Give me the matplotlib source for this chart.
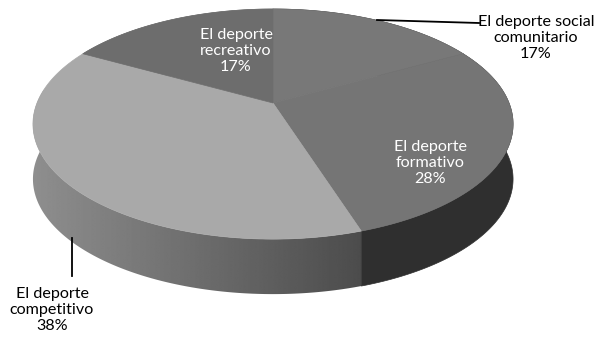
import numpy as np
import matplotlib.pyplot as plt
from matplotlib.patches import Polygon

# slice data, clockwise from 12 o'clock
labels = ["El deporte social\ncomunitario", "El deporte\nformativo",
          "El deporte\ncompetitivo", "El deporte\nrecreativo"]
values = [17, 28, 38, 17]

top_colors = ["#787878", "#757575", "#a9a9a9", "#6d6d6d"]
side_colors = ["#2f2f2f", "#2f2f2f", None, "#8e8e8e"]
text_colors = ["black", "white", "black", "white"]
label_pos = [(536, 38), (430, 163), (52, 310), (236, 51)]

# pie geometry in pixel units (y grows downward)
cx, cy = 273, 103
R, B, C = 236, 111.2, -0.183
DEPTH = 55


def project(phi):
    # phi in degrees, measured clockwise from the back of the pie
    a = np.radians(phi)
    s, t = np.sin(a), -np.cos(a)
    d = 1 + C * t
    return cx + R * s / d, cy + B * t / d


fig = plt.figure(figsize=(5.96, 3.37), dpi=100)
ax = fig.add_axes([0, 0, 1, 1])
ax.axis("off")

bounds = np.concatenate([[0], np.cumsum(values) / sum(values) * 360])

# side walls: back slices first, the front ones over them
for i in [0, 3, 1, 2]:
    phis = np.linspace(bounds[i], bounds[i + 1], 200)
    x, y = project(phis)
    pts = list(zip(x, y)) + list(zip(x[::-1], y[::-1] + DEPTH))
    if side_colors[i] is not None:
        ax.add_patch(Polygon(pts, closed=True, facecolor=side_colors[i],
                             edgecolor=side_colors[i], linewidth=0.5))
    else:
        # horizontal light-to-dark shading on the big front wall
        band = Polygon(pts, closed=True, facecolor="none", edgecolor="none")
        ax.add_patch(band)
        xs = np.linspace(0, 1, 256)
        grad = np.tile(0.56 - 0.27 * xs, (2, 1))
        img = ax.imshow(grad, cmap="gray", vmin=0, vmax=1, aspect="auto",
                        extent=(30, 372, 300, 90), interpolation="bilinear")
        img.set_clip_path(band)

# top faces
for i in range(len(values)):
    phis = np.linspace(bounds[i], bounds[i + 1], 120)
    x, y = project(phis)
    pts = [(cx, cy)] + list(zip(x, y))
    ax.add_patch(Polygon(pts, closed=True, facecolor=top_colors[i],
                         edgecolor=top_colors[i], linewidth=0.5))

ax.set_xlim(0, 596)
ax.set_ylim(337, 0)

# labels
for i in range(len(values)):
    lx, ly = label_pos[i]
    ax.text(lx, ly, f"{labels[i]}\n{values[i]}%", ha="center", va="center",
            color=text_colors[i], fontsize=11.6, family="Lato",
            linespacing=1.18)

# leader lines
ax.plot([377, 479], [20, 23], color="black", linewidth=1.3)
ax.plot([72, 72], [238, 276], color="black", linewidth=1.3)

fig.savefig("out.png", dpi=100)
